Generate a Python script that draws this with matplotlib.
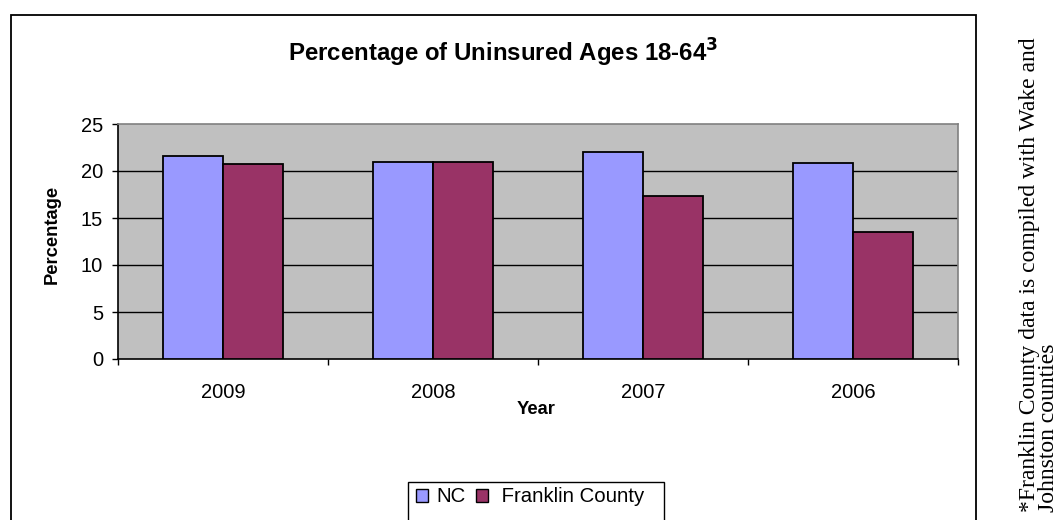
import matplotlib.pyplot as plt
import numpy as np
from matplotlib.patches import Rectangle, Patch

# ================= Data =================
YEARS = ['2009', '2008', '2007', '2006']
NC = [21.6, 21.0, 22.0, 20.9]
FRANKLIN = [20.7, 21.0, 17.3, 13.5]
Y_TICKS = [0, 5, 10, 15, 20, 25]
# ========================================

W, H = 1060, 520


def px(x, y):
    # pixel coords (top-left origin) -> figure fraction
    return x / W, 1 - y / H


fig = plt.figure(figsize=(W / 100, H / 100), dpi=100)
plt.rcParams['font.family'] = ['Liberation Sans', 'DejaVu Sans']

left, top = px(118, 124)
right, bottom = px(958, 359)
ax = fig.add_axes([left, bottom, right - left, top - bottom])
ax.set_facecolor('#C0C0C0')

x = np.arange(len(YEARS))
bw = 60 / 210
ax.bar(x - bw / 2, NC, width=bw, color='#9999FF', edgecolor='black', linewidth=1.3, zorder=3)
ax.bar(x + bw / 2, FRANKLIN, width=bw, color='#993366', edgecolor='black', linewidth=1.3, zorder=3)

ax.set_xlim(-0.5, len(YEARS) - 0.5)
ax.set_ylim(0, 25)
ax.set_yticks(Y_TICKS)
ax.set_yticklabels([str(t) for t in Y_TICKS], fontsize=14.5)
ax.set_xticks(x)
ax.set_xticklabels(YEARS, fontsize=14.5)
ax.set_xticks(np.arange(len(YEARS) + 1) - 0.5, minor=True)
ax.tick_params(axis='x', which='major', length=0, pad=17)
ax.tick_params(axis='x', which='minor', length=4.3, width=1, direction='out')
ax.tick_params(axis='y', length=4.3, width=1, direction='out', pad=6.5)

for v in Y_TICKS[1:-1]:
    ax.axhline(v, color='black', linewidth=1, zorder=1)

ax.spines['left'].set_color('black')
ax.spines['bottom'].set_color('black')
ax.spines['top'].set_color('#808080')
ax.spines['right'].set_color('#808080')
for s in ax.spines.values():
    s.set_linewidth(1.2)

# axis titles
yx, yy = px(52, 234)
fig.text(yx, yy, 'Percentage', fontsize=13.2, fontweight='bold', rotation=90,
         ha='center', va='center')
xx, xy = px(536, 409)
fig.text(xx, xy, 'Year', fontsize=13.2, fontweight='bold', ha='center', va='center')

tx, ty = px(503, 53)
fig.text(tx, ty, r'Percentage of Uninsured Ages 18-64$^\mathbf{3}$', fontsize=17.3,
         fontweight='bold', ha='center', va='center')

# outer chart border
bx, by = px(11, 15)
fig.patches.append(Rectangle((bx, -0.05), (976 - 11) / W, by + 0.05, transform=fig.transFigure,
                             fill=False, edgecolor='black', linewidth=1.3, clip_on=False))

# legend box
lx, ly = px(408, 482)
fig.patches.append(Rectangle((lx, -0.05), (664 - 408) / W, ly + 0.05, transform=fig.transFigure,
                             fill=False, edgecolor='black', linewidth=1, clip_on=False))
handles = [Patch(facecolor='#9999FF', edgecolor='black', label='NC'),
           Patch(facecolor='#993366', edgecolor='black', label=' Franklin County')]
lgx, lgy = px(416, 497)
fig.legend(handles=handles, loc='center left', bbox_to_anchor=(lgx, lgy), ncol=2, frameon=False,
           fontsize=14.7, handlelength=0.6, handleheight=0.6, handletextpad=0.4,
           columnspacing=0.5, borderpad=0, borderaxespad=0)

# side note
nx, ny = px(1039, 512)
fig.text(nx, ny, '*Franklin County data is compiled with Wake and\nJohnston counties',
         rotation=90, fontsize=17, family='Liberation Serif', ha='center', va='bottom',
         multialignment='left', linespacing=0.9)

fig.savefig('out.png', dpi=100)
